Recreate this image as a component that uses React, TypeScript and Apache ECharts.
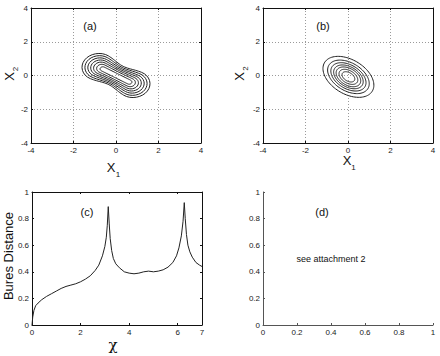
import React, { useEffect, useRef } from "react";
import * as echarts from "echarts";

// ---------- data ----------
const phaseTicksMin = -4;
const phaseTicksMax = 4;
const phaseTickStep = 2;

// (a) contours: capsule-like peanut contours (data units)
const aCenter = [0, 0];
const aAngleDeg = -32;
const aHalfLength = [0.92, 0.9, 0.88, 0.85, 0.82, 0.78, 0.73];
const aRadius = [0.82, 0.7, 0.58, 0.47, 0.36, 0.25, 0.13];
const aWaist = [0.22, 0.2, 0.17, 0.14, 0.1, 0.05, 0.0];

// (b) contours: rotated ellipses (data units)
const bCenter = [0.02, -0.08];
const bAngleDeg = -46;
const bSemiMajor = [1.43, 1.17, 0.99, 0.83, 0.69, 0.53, 0.36];
const bSemiMinor = [0.93, 0.76, 0.64, 0.54, 0.45, 0.34, 0.23];

// (c) Bures distance vs chi
const chi = [0, 0.03, 0.08, 0.15, 0.25, 0.4, 0.6, 0.8, 1.0, 1.2, 1.4, 1.6, 1.8, 2.0, 2.2, 2.4, 2.6, 2.75, 2.9, 3.0, 3.06, 3.1, 3.14, 3.18, 3.22, 3.28, 3.35, 3.45, 3.6, 3.8, 4.0, 4.2, 4.4, 4.6, 4.8, 5.0, 5.2, 5.4, 5.6, 5.8, 5.95, 6.05, 6.15, 6.22, 6.27, 6.31, 6.36, 6.42, 6.5, 6.6, 6.75, 6.9, 7.0];
const bures = [0.0, 0.06, 0.11, 0.145, 0.165, 0.19, 0.215, 0.235, 0.255, 0.275, 0.29, 0.3, 0.31, 0.325, 0.345, 0.37, 0.41, 0.45, 0.52, 0.59, 0.66, 0.75, 0.89, 0.76, 0.65, 0.56, 0.5, 0.46, 0.43, 0.4, 0.39, 0.385, 0.39, 0.4, 0.405, 0.4, 0.405, 0.415, 0.435, 0.47, 0.52, 0.58, 0.67, 0.78, 0.92, 0.8, 0.68, 0.6, 0.55, 0.51, 0.47, 0.45, 0.44];

const panelLabels = ["(a)", "(b)", "(c)", "(d)"];
const noteText = "see attachment 2";

// ---------- helpers ----------
const FONT = "Liberation Sans, Arial, Helvetica, sans-serif";

function capsulePoints(cx: number, cy: number, angDeg: number, L: number, R: number, W: number) {
  const th = (angDeg * Math.PI) / 180;
  const c = Math.cos(th);
  const s = Math.sin(th);
  const local: number[][] = [];
  const capN = 16;
  const sideN = 24;
  for (let i = 0; i <= capN; i++) {
    const p = -Math.PI / 2 + (Math.PI * i) / capN;
    local.push([L + R * Math.cos(p), R * Math.sin(p)]);
  }
  for (let i = 1; i < sideN; i++) local.push([L - (2 * L * i) / sideN, R]);
  for (let i = 0; i <= capN; i++) {
    const p = Math.PI / 2 + (Math.PI * i) / capN;
    local.push([-L + R * Math.cos(p), R * Math.sin(p)]);
  }
  for (let i = 1; i < sideN; i++) local.push([-L + (2 * L * i) / sideN, -R]);
  local.push(local[0]);
  const sc = 0.7 * L;
  return local.map(([u, v]) => {
    const f = 1 - W * Math.exp(-((u / sc) * (u / sc)));
    const vv = v * f;
    return [cx + u * c - vv * s, cy + u * s + vv * c];
  });
}

function ellipsePoints(cx: number, cy: number, angDeg: number, a: number, b: number) {
  const th = (angDeg * Math.PI) / 180;
  const c = Math.cos(th);
  const s = Math.sin(th);
  const pts: number[][] = [];
  const n = 96;
  for (let i = 0; i <= n; i++) {
    const t = (2 * Math.PI * i) / n;
    const u = a * Math.cos(t);
    const v = b * Math.sin(t);
    pts.push([cx + u * c - v * s, cy + u * s + v * c]);
  }
  return pts;
}

const axisColor = "#111";

function mkX(gridIndex: number, min: number, max: number, interval: number, pos: "bottom" | "top", showLabel: boolean, split: boolean, color = axisColor) {
  return {
    type: "value",
    gridIndex,
    min,
    max,
    interval,
    position: pos,
    axisLine: { show: true, onZero: false, lineStyle: { color, width: 1 } },
    axisTick: { show: true, inside: true, length: 2, lineStyle: { color } },
    axisLabel: { show: showLabel, fontSize: 8, color: "#222", margin: 3, fontFamily: FONT },
    splitLine: { show: split, lineStyle: { color: "#9a9a9a", width: 1, type: [1, 2] } },
  };
}
function mkY(gridIndex: number, min: number, max: number, interval: number, pos: "left" | "right", showLabel: boolean, split: boolean, color = axisColor) {
  return {
    type: "value",
    gridIndex,
    min,
    max,
    interval,
    position: pos,
    axisLine: { show: true, onZero: false, lineStyle: { color, width: 1 } },
    axisTick: { show: true, inside: true, length: 2, lineStyle: { color } },
    axisLabel: { show: showLabel, fontSize: 8, color: "#222", margin: 3, fontFamily: FONT },
    splitLine: { show: split, lineStyle: { color: "#9a9a9a", width: 1, type: [1, 2] } },
  };
}

function txt(text: string, x: number, y: number, size: number, rotate = 0, family = FONT) {
  return {
    type: "text",
    x,
    y,
    rotation: rotate,
    silent: true,
    style: {
      text,
      fontSize: size,
      fontFamily: family,
      fill: "#111",
      align: "center",
      verticalAlign: "middle",
      textAlign: "center",
      textVerticalAlign: "middle",
    },
  };
}

export default function App() {
  const ref = useRef<HTMLDivElement>(null);
  useEffect(() => {
    if (!ref.current) return;
    const chart = echarts.init(ref.current, undefined, { renderer: "svg" });

    const grids = [
      { left: 31, top: 8, width: 170, height: 135 },
      { left: 263, top: 8, width: 170, height: 135 },
      { left: 32, top: 192, width: 170, height: 133 },
      { left: 263, top: 192, width: 170, height: 133 },
    ];

    const xAxes: any[] = [];
    const yAxes: any[] = [];
    xAxes.push(mkX(0, phaseTicksMin, phaseTicksMax, phaseTickStep, "bottom", true, true));
    xAxes.push(mkX(0, phaseTicksMin, phaseTicksMax, phaseTickStep, "top", false, false));
    yAxes.push(mkY(0, phaseTicksMin, phaseTicksMax, phaseTickStep, "left", true, true));
    yAxes.push(mkY(0, phaseTicksMin, phaseTicksMax, phaseTickStep, "right", false, false));
    xAxes.push(mkX(1, phaseTicksMin, phaseTicksMax, phaseTickStep, "bottom", true, true));
    xAxes.push(mkX(1, phaseTicksMin, phaseTicksMax, phaseTickStep, "top", false, false));
    yAxes.push(mkY(1, phaseTicksMin, phaseTicksMax, phaseTickStep, "left", true, true));
    yAxes.push(mkY(1, phaseTicksMin, phaseTicksMax, phaseTickStep, "right", false, false));
    xAxes.push(mkX(2, 0, 7, 2, "bottom", true, false));
    xAxes.push(mkX(2, 0, 7, 2, "top", false, false));
    yAxes.push(mkY(2, 0, 1, 0.2, "left", true, false));
    yAxes.push(mkY(2, 0, 1, 0.2, "right", false, false));
    xAxes.push(mkX(3, 0, 1, 0.2, "bottom", true, false, "#555"));
    yAxes.push(mkY(3, 0, 1, 0.2, "left", true, false, "#555"));

    const lineStyle = { stroke: "#222", lineWidth: 1, fill: "none" };

    const option: any = {
      animation: false,
      backgroundColor: "#fff",
      grid: grids,
      xAxis: xAxes,
      yAxis: yAxes,
      series: [
        {
          type: "custom",
          xAxisIndex: 0,
          yAxisIndex: 0,
          data: aRadius.map((_, k) => [aCenter[0], aCenter[1], k]),
          encode: { x: 0, y: 1 },
          renderItem: (_p: any, api: any) => {
            const k = api.value(2);
            const pts = capsulePoints(api.value(0), api.value(1), aAngleDeg, aHalfLength[k], aRadius[k], aWaist[k]).map((p) => api.coord(p));
            return { type: "polyline", shape: { points: pts }, style: lineStyle };
          },
        },
        {
          type: "custom",
          xAxisIndex: 2,
          yAxisIndex: 2,
          data: bSemiMajor.map((_, k) => [bCenter[0], bCenter[1], k]),
          encode: { x: 0, y: 1 },
          renderItem: (_p: any, api: any) => {
            const k = api.value(2);
            const pts = ellipsePoints(api.value(0), api.value(1), bAngleDeg, bSemiMajor[k], bSemiMinor[k]).map((p) => api.coord(p));
            return { type: "polyline", shape: { points: pts }, style: lineStyle };
          },
        },
        {
          type: "line",
          xAxisIndex: 4,
          yAxisIndex: 4,
          data: chi.map((x, i) => [x, bures[i]]),
          showSymbol: false,
          symbol: "none",
          lineStyle: { color: "#222", width: 1 },
        },
      ],
      graphic: [
        txt(panelLabels[0], 90, 26, 11),
        txt(panelLabels[1], 323, 26, 11),
        txt(panelLabels[2], 87, 212, 11),
        txt(panelLabels[3], 322, 212, 11),
        txt(noteText, 331, 258.5, 9),
        // (a) axis names
        txt("X", 111, 167.5, 13),
        txt("1", 118, 174.5, 8),
        txt("X", 9.5, 76.5, 13, Math.PI / 2),
        txt("2", 15.5, 69, 8, Math.PI / 2),
        // (b) axis names
        txt("X", 347, 160.5, 13),
        txt("1", 353.5, 167.5, 8),
        txt("X", 239.5, 76.5, 13, Math.PI / 2),
        txt("2", 245.5, 68.5, 8, Math.PI / 2),
        // (c) axis names
        txt("Bures Distance", 8.5, 256, 13, Math.PI / 2),
        txt("\u03c7", 113, 345, 15, 0, "DejaVu Serif, DejaVu Sans, serif"),
      ],
    };
    chart.setOption(option);
    return () => chart.dispose();
  }, []);
  return <div ref={ref} style={{ position: "absolute", left: 0, top: 0, width: 440, height: 356 }} />;
}
